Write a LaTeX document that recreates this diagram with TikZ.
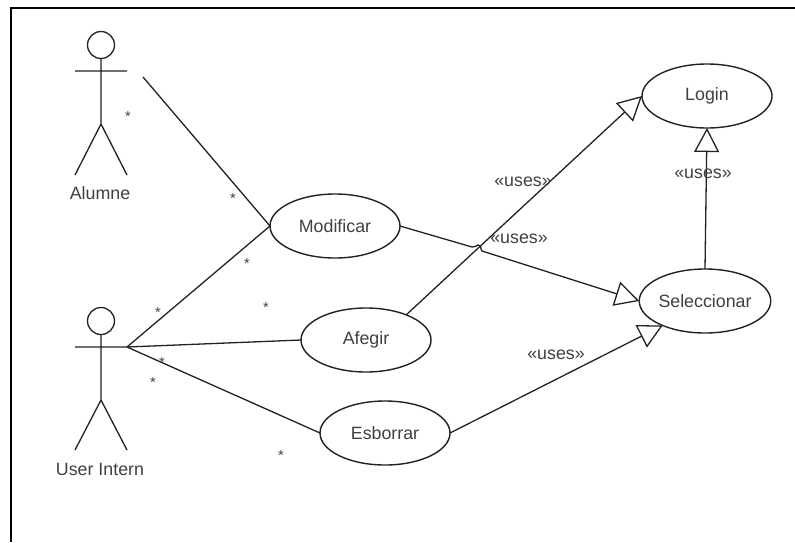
\documentclass[tikz,border=0pt]{standalone}
\usepackage{fontspec}
\setmainfont{Liberation Sans}
\usetikzlibrary{shapes.geometric,arrows.meta}
\definecolor{inkline}{HTML}{222222}
\definecolor{inktext}{HTML}{404040}
\tikzset{
  usecase/.style={ellipse,draw=inkline,line width=1.4pt,fill=white,minimum width=130pt,minimum height=64pt,inner sep=0pt,outer sep=0pt,text=inktext,font=\fontsize{17.8pt}{20pt}\selectfont},
  link/.style={draw=inkline,line width=1.3pt},
  uses/.style={link,-{Triangle[open,length=24pt,width=25pt,line width=1.3pt]}},
  head/.style={circle,draw=inkline,line width=1.3pt,minimum size=27pt,inner sep=0pt,outer sep=0pt},
  lbl/.style={text=inktext,inner sep=0pt,font=\fontsize{17.8pt}{20pt}\selectfont},
  mult/.style={text=inktext,inner sep=0pt,yshift=-3.5pt,font=\fontsize{14.5pt}{16pt}\selectfont},
}
\begin{document}
\begin{tikzpicture}[x=1pt,y=-1pt]
\useasboundingbox (0,0) rectangle (795,542);
\fill[white] (0,0) rectangle (795,542);
\draw[black,line width=2pt] (11,542) -- (11,8) -- (795,8);
% use cases
\node[usecase] (login) at (707,96) {Login};
\node[usecase] (selec) at (705,301) {Seleccionar};
\node[usecase] (modif) at (335,226) {Modificar};
\node[usecase] (afegir) at (366,340) {Afegir};
\node[usecase] (esb) at (385,433) {Esborrar};
% actor Alumne
\node[head] (h1) at (101,45) {};
\coordinate (a1s) at (101,71);
\coordinate (a1l) at (75,71);
\coordinate (a1r) at (127,71);
\coordinate (a1h) at (101,124);
\coordinate (a1fl) at (75,175);
\coordinate (a1fr) at (127,175);
\draw[link] (h1) -- (a1h) (a1l) -- (a1r) (a1fl) -- (a1h) -- (a1fr);
\node[lbl] (n1) at (100,193) {Alumne};
% actor User Intern
\node[head] (h2) at (101,321) {};
\coordinate (a2l) at (75,347);
\coordinate (a2r) at (127,347);
\coordinate (a2h) at (101,400);
\coordinate (a2fl) at (75,450);
\coordinate (a2fr) at (127,450);
\draw[link] (h2) -- (a2h) (a2l) -- (a2r) (a2fl) -- (a2h) -- (a2fr);
\node[lbl] (n2) at (100,469) {User Intern};
% associations
\coordinate (free) at (143,77);
\draw[link] (free) -- (modif.west);
\draw[link] (a2r) -- (modif.west);
\draw[link] (a2r) -- (afegir.west);
\draw[link] (a2r) -- (esb.west);
% uses
\coordinate (j1) at (472,247);
\coordinate (j2) at (482,251);
\draw[uses] (modif.east) -- (j1) .. controls (475,248) and (476,245) .. (478,245) .. controls (481,245) and (481,247) .. (481,249) -- (j2) -- (selec.west);
\draw[uses] (afegir.32) -- (login.west);
\draw[uses] (esb.east) -- (selec.210);
\draw[uses] (selec.north) -- (login.south);
% labels
\node[lbl] (u1) at (523,182) {«uses»};
\node[lbl] (u2) at (519,239) {«uses»};
\node[lbl] (u3) at (703,174) {«uses»};
\node[lbl] (u4) at (556,355) {«uses»};
% multiplicities
\node[mult] (m1) at (128,113) {*};
\node[mult] (m2) at (233,195) {*};
\node[mult] (m3) at (247,260) {*};
\node[mult] (m4) at (158,309) {*};
\node[mult] (m5) at (266,304) {*};
\node[mult] (m6) at (162,359) {*};
\node[mult] (m7) at (153,379) {*};
\node[mult] (m8) at (281,452) {*};
\end{tikzpicture}
\end{document}
